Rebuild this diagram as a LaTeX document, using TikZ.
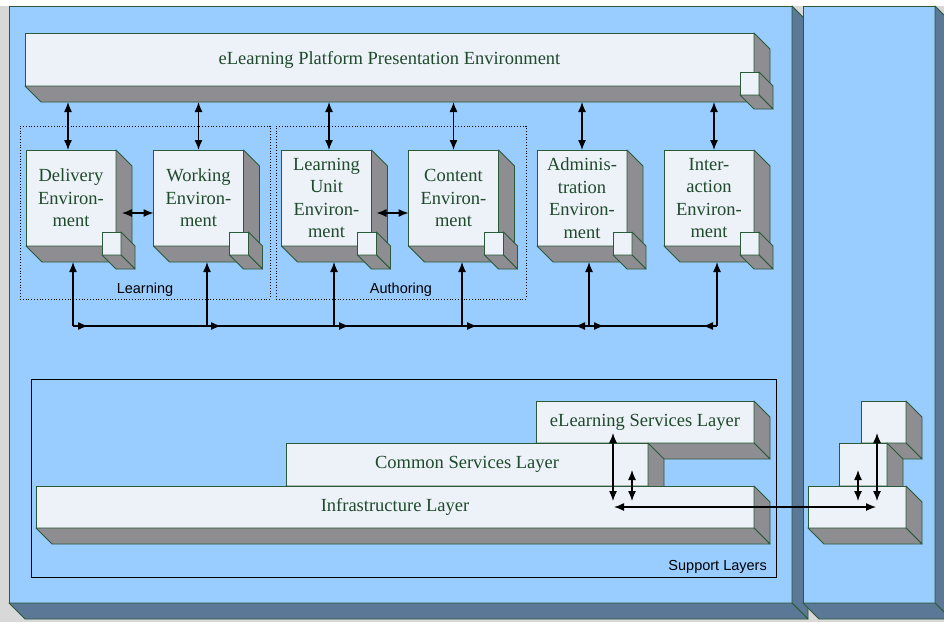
\documentclass[tikz,border=0pt]{standalone}
\usepackage{fontspec}
\setmainfont{Liberation Serif}
\setsansfont{Liberation Sans}
\usetikzlibrary{calc,arrows.meta}
\definecolor{panelF}{HTML}{99CCFF}
\definecolor{panelS}{HTML}{5B7896}
\definecolor{boxF}{HTML}{EDF1F8}
\definecolor{boxS}{HTML}{8E8E92}
\definecolor{edge}{HTML}{2A5A3A}
\definecolor{txt}{HTML}{1F4A2B}
\definecolor{bgg}{HTML}{D8D8D8}
\tikzset{
  outl/.style={draw=edge, line width=0.9pt, line join=round},
  front/.style={outl, fill=boxF, text=txt, font=\fontsize{18.5}{22.5}\selectfont,
    inner sep=0pt, outer sep=0pt, align=center},
  sideF/.style={outl, fill=boxS},
  pfront/.style={outl, fill=panelF, inner sep=0pt, outer sep=0pt},
  pside/.style={outl, fill=panelS},
  dbl/.style={{Latex[length=10pt,width=8pt]}-{Latex[length=10pt,width=8pt]}, line width=1.3pt},
  sgl/.style={-{Latex[length=10pt,width=8pt]}, line width=1.3pt},
  bus/.style={line width=1.3pt},
  grp/.style={draw, dotted, line width=0.8pt, inner sep=0pt, outer sep=0pt},
  lbl/.style={font=\sffamily\fontsize{14.5}{16}\selectfont, inner sep=0pt}
}
\newcommand\extrude[3]{%
  \draw[#3] (#1.north east) -- ++(#2,#2) -- ($(#1.south east)+(#2,#2)$) -- (#1.south east) -- cycle;
  \draw[#3] (#1.south west) -- ++(#2,#2) -- ($(#1.south east)+(#2,#2)$) -- (#1.south east) -- cycle;
}
\newcommand\envbox[3]{%
  \node[front, minimum width=90pt, minimum height=96pt] (#1) at (#2,198) {#3};
  \extrude{#1}{16}{sideF}
  \node[front, minimum width=19pt, minimum height=23pt] (#1c) at ($(#1.south east)+(-4.5,-2.5)$) {};
  \extrude{#1c}{14}{sideF}
}
\begin{document}
\begin{tikzpicture}[x=1pt,y=-1pt]
\useasboundingbox (0,0) rectangle (944,622);
\fill[bgg] (0,0) rectangle (944,622);
\fill[white] (0,0) rectangle (944,6);
% panels
\node[pfront, minimum width=783pt, minimum height=597pt] (lp) at (400.5,304.5) {};
\extrude{lp}{16}{pside}
\node[pfront, minimum width=132pt, minimum height=597pt] (rp) at (869,304.5) {};
\extrude{rp}{16}{pside}
% top presentation box
\node[front, minimum width=729pt, minimum height=53pt] (top) at (389.5,59.5) {eLearning Platform Presentation Environment};
\extrude{top}{16}{sideF}
\node[front, minimum width=19pt, minimum height=23pt] (topc) at ($(top.south east)+(-4.5,-2.5)$) {};
\extrude{topc}{14}{sideF}
\coordinate (tb) at (0,102);
% groups
\node[grp, minimum width=250pt, minimum height=173pt] (glearn) at (145,212.5) {};
\node[grp, minimum width=250pt, minimum height=173pt] (gauth) at (401,212.5) {};
\node[lbl] at (145,290) {Learning};
\node[lbl] at (401,290) {Authoring};
% environment boxes
\envbox{deliv}{71}{Delivery\\Environ-\\ment}
\envbox{work}{198.5}{Working\\Environ-\\ment}
\envbox{lu}{326.5}{Learning\\Unit\\Environ-\\ment}
\envbox{cont}{453.5}{Content\\Environ-\\ment}
\envbox{adm}{582}{Adminis-\\tration\\Environ-\\ment}
\envbox{inter}{709}{Inter-\\action\\Environ-\\ment}
% arrows from presentation box
\draw[dbl] ([xshift=-3pt]deliv.north) -- ([xshift=-3pt]deliv.north |- tb);
\draw[dbl] (work.north) -- (work.north |- tb);
\draw[dbl] ([xshift=2.5pt]lu.north) -- ([xshift=2.5pt]lu.north |- tb);
\draw[dbl] (cont.north) -- (cont.north |- tb);
\draw[dbl] (adm.north) -- (adm.north |- tb);
\draw[dbl] ([xshift=5pt]inter.north) -- ([xshift=5pt]inter.north |- tb);
% horizontal arrows between boxes
\draw[dbl] ($(deliv.east)+(6,15)$) -- ([yshift=-15pt]work.west);
\draw[dbl] ($(lu.east)+(5,15)$) -- ([yshift=-15pt]cont.west);
% bus
\coordinate (bb) at (0,262);
\coordinate (dJ) at (73,326);
\coordinate (wJ) at (207,326);
\coordinate (lJ) at (334,326);
\coordinate (cJ) at (462,326);
\coordinate (aJ) at (589,326);
\coordinate (iJ) at (717,326);
\draw[bus] (dJ) -- (iJ);
\foreach \j in {dJ,wJ,lJ,cJ,aJ,iJ} {\draw[sgl] (\j) -- (\j |- bb);}
\draw[sgl] (dJ) -- ++(15,0);
\draw[sgl] (wJ) -- ++(14,0);
\draw[sgl] (lJ) -- ++(15,0);
\draw[sgl] (cJ) -- ++(15,0);
\draw[sgl] (aJ) -- ++(-14,0);
\draw[sgl] (aJ) -- ++(15,0);
\draw[sgl] (iJ) -- ++(-14,0);
% support layers
\node[draw, line width=1pt, inner sep=0pt, outer sep=0pt, minimum width=745pt, minimum height=198pt] (sup) at (403.5,478) {};
\node[lbl, anchor=south east] at ($(sup.south east)+(-9,-3)$) {Support Layers};
\node[front, minimum width=218pt, minimum height=42pt] (els) at (645,422) {eLearning Services Layer};
\extrude{els}{16}{sideF}
\node[front, minimum width=362pt, minimum height=43pt] (cs) at (467,464.5) {Common Services Layer};
\extrude{cs}{16}{sideF}
\node[front, minimum width=718pt, minimum height=42pt] (inf) at (395,507) {Infrastructure Layer};
\extrude{inf}{16}{sideF}
% mini stack in right panel
\node[front, minimum width=45pt, minimum height=42pt] (m3) at (883.5,422) {};
\extrude{m3}{16}{sideF}
\node[front, minimum width=48pt, minimum height=43pt] (m2) at (863,464.5) {};
\extrude{m2}{16}{sideF}
\node[front, minimum width=98pt, minimum height=42pt] (m1) at (857,507) {};
\extrude{m1}{16}{sideF}
% support arrows
\coordinate (a1t) at (613,433); \coordinate (a1b) at (613,501);
\coordinate (a2t) at (632,470); \coordinate (a2b) at (632,501);
\coordinate (hl) at (614,507); \coordinate (hr) at (876,507);
\coordinate (a3t) at (858,470); \coordinate (a3b) at (858,501);
\coordinate (a4t) at (877,433); \coordinate (a4b) at (877,501);
\draw[dbl] (a1t) -- (a1b);
\draw[dbl] (a2t) -- (a2b);
\draw[dbl] (hl) -- (hr);
\draw[dbl] (a3t) -- (a3b);
\draw[dbl] (a4t) -- (a4b);
\end{tikzpicture}
\end{document}
